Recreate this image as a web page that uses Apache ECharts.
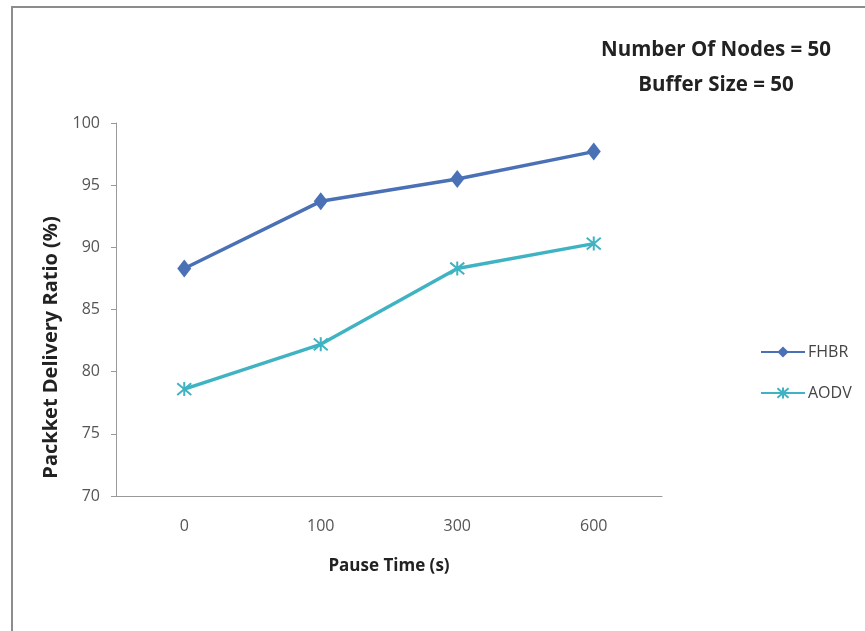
<!DOCTYPE html>
<html>
<head>
<meta charset="utf-8">
<script src="https://cdn.jsdelivr.net/npm/echarts@6/dist/echarts.min.js"></script>
<style>html,body{margin:0;padding:0;background:#fff}#c{width:865px;height:631px}</style>
</head>
<body>
<div id="c"></div>
<script>
var categories = ['0', '100', '300', '600'];
var fhbr = [88.3, 93.7, 95.5, 97.7];
var aodv = [78.6, 82.2, 88.3, 90.3];
var yTicks = [70, 75, 80, 85, 90, 95, 100];
var titleLines = ['Number Of Nodes = 50', 'Buffer Size = 50'];

var chart = echarts.init(document.getElementById('c'), null, {renderer: 'canvas'});
var starPath = 'path://M0,0L10,10M10,0L0,10M5,-1L5,11';
chart.setOption({
  animation: false,
  backgroundColor: '#fff',
  graphic: [
    {type: 'rect', shape: {x: 12, y: 7, width: 870, height: 640}, style: {fill: 'none', stroke: '#8c8c8c', lineWidth: 2}, silent: true}
  ],
  title: {
    text: titleLines.join('\n'),
    left: 711, top: 28, textAlign: 'center',
    textStyle: {fontFamily: 'Open Sans', fontWeight: 'bold', fontSize: 20.5, color: '#222', lineHeight: 35}
  },
  legend: {
    orient: 'vertical', left: 755, top: 339, itemGap: 25, itemWidth: 44, itemHeight: 14,
    textStyle: {fontFamily: 'Open Sans', fontSize: 16, lineHeight: 16, color: '#444', padding: [0, 0, 0, -2]},
    data: ['FHBR', 'AODV']
  },
  grid: {left: 116, right: 203, top: 123, bottom: 135},
  xAxis: {
    type: 'category', data: categories, boundaryGap: true,
    name: 'Pause Time (s)', nameLocation: 'middle', nameGap: 62,
    nameTextStyle: {fontFamily: 'Open Sans', fontWeight: 'bold', fontSize: 17, color: '#222'},
    axisLine: {lineStyle: {color: '#999', width: 1}},
    axisTick: {show: false},
    axisLabel: {fontFamily: 'Open Sans', fontSize: 16, color: '#555', margin: 22}
  },
  yAxis: {
    type: 'value', min: 70, max: 100, interval: 5,
    name: 'Packket Delivery Ratio (%)', nameLocation: 'middle', nameGap: 52,
    nameTextStyle: {fontFamily: 'Open Sans', fontWeight: 'bold', fontSize: 20, color: '#222', padding: [0, 76, 0, 0]},
    axisLine: {show: true, lineStyle: {color: '#999', width: 1}},
    axisTick: {show: true, length: 5, lineStyle: {color: '#999'}},
    splitLine: {show: false},
    axisLabel: {fontFamily: 'Open Sans', fontSize: 16, color: '#555', margin: 16,
      formatter: function (v) { return yTicks.indexOf(v) >= 0 ? String(v) : ''; }}
  },
  series: [
    {name: 'FHBR', type: 'line', data: fhbr, symbol: 'diamond', symbolSize: [14, 18],
      lineStyle: {color: '#4a70b5', width: 3.5}, itemStyle: {color: '#4a70b5'}},
    {name: 'AODV', type: 'line', data: aodv, symbol: starPath, symbolSize: 14,
      lineStyle: {color: '#3fb3c2', width: 3.5},
      itemStyle: {color: '#3fb3c2', borderColor: '#3fb3c2', borderWidth: 2}}
  ]
});
</script>
</body>
</html>
